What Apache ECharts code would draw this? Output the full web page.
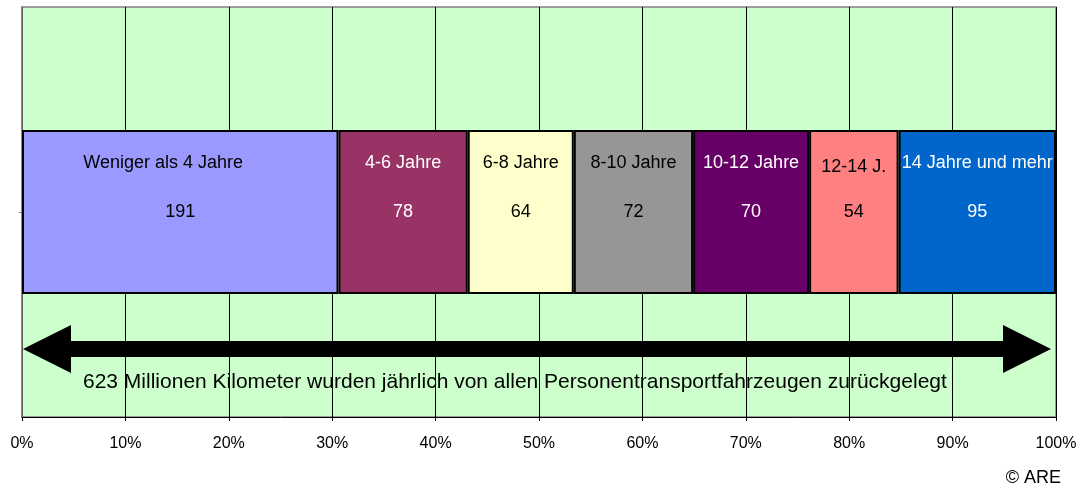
<!DOCTYPE html>
<html>
<head>
<meta charset="utf-8">
<script src="https://cdn.jsdelivr.net/npm/echarts@6/dist/echarts.min.js"></script>
<style>
  html, body { margin: 0; padding: 0; background: #fff; }
  #chart { width: 1082px; height: 486px; }
</style>
</head>
<body>
<div id="chart"></div>
<script>
// Fahrzeugalter und jährliche Fahrleistung (Mio. km)
var ageGroups = ['Weniger als 4 Jahre', '4-6 Jahre', '6-8 Jahre', '8-10 Jahre', '10-12 Jahre', '12-14 J.', '14 Jahre und mehr'];
var kilometers = [191, 78, 64, 72, 70, 54, 95];
var barColors = ['#9999FF', '#993366', '#FFFFCC', '#969696', '#660066', '#FF8080', '#0066CC'];
var labelColors = ['#000', '#fff', '#000', '#000', '#fff', '#000', '#fff'];
var tickValues = [0, 10, 20, 30, 40, 50, 60, 70, 80, 90, 100];

var total = kilometers.reduce(function (a, b) { return a + b; }, 0);
var font = '"Liberation Sans", Arial, sans-serif';

var myChart = echarts.init(document.getElementById('chart'));

var series = ageGroups.map(function (name, i) {
    var shift = i === 0 ? 34 : 0; // Excel setzt den ersten Namen etwas links
    return {
        name: name,
        type: 'bar',
        stack: 'total',
        barWidth: 164,
        data: [kilometers[i] / total * 100],
        itemStyle: { color: barColors[i], borderColor: '#000', borderWidth: 2 },
        label: {
            show: true,
            position: 'insideTop',
            distance: 0,
            formatter: '{a|' + name + '}\n{b|' + kilometers[i] + '}',
            rich: {
                a: { fontFamily: font, fontSize: 18, color: labelColors[i], lineHeight: i === 5 ? 74 : 66, padding: [0, shift, 0, 0] },
                b: { fontFamily: font, fontSize: 18, color: labelColors[i], lineHeight: i === 5 ? 16 : 32 }
            }
        }
    };
});

var option = {
    animation: false,
    backgroundColor: '#fff',
    grid: {
        left: 22, right: 26, top: 7, bottom: 69,
        show: true, backgroundColor: '#CCFFCC', borderColor: '#808080', borderWidth: 1.5
    },
    xAxis: {
        type: 'value',
        min: 0, max: 100, interval: 10,
        axisLine: { show: true, lineStyle: { color: '#000', width: 1 } },
        axisTick: { show: true, length: 4, lineStyle: { color: '#000' } },
        axisLabel: { formatter: '{value}%', fontFamily: font, fontSize: 16, color: '#000', margin: 19 },
        splitLine: { show: true, lineStyle: { color: '#000', width: 1 } }
    },
    yAxis: {
        type: 'category',
        data: [''],
        axisLine: { show: true, lineStyle: { color: '#808080', width: 1.5 } },
        axisTick: { show: true, alignWithLabel: true, length: 3, lineStyle: { color: '#808080' } },
        axisLabel: { show: false }
    },
    series: series
};

myChart.setOption(option);

// Doppelpfeil und Beschriftung unter dem Balken
var p0 = myChart.convertToPixel({ xAxisIndex: 0 }, 0);
var p100 = myChart.convertToPixel({ xAxisIndex: 0 }, 100);
var ax0 = p0 + 1, ax1 = p100 - 5, ay = 349, shaft = 8, head = 24, headLen = 48;
myChart.setOption({
    graphic: [
        {
            type: 'polygon',
            shape: {
                points: [
                    [ax0, ay], [ax0 + headLen, ay - head], [ax0 + headLen, ay - shaft],
                    [ax1 - headLen, ay - shaft], [ax1 - headLen, ay - head], [ax1, ay],
                    [ax1 - headLen, ay + head], [ax1 - headLen, ay + shaft],
                    [ax0 + headLen, ay + shaft], [ax0 + headLen, ay + head]
                ]
            },
            style: { fill: '#000' }
        },
        {
            type: 'text',
            x: 83, y: 382,
            style: {
                text: '623 Millionen Kilometer wurden jährlich von allen Personentransportfahrzeugen zurückgelegt',
                fontFamily: font, fontSize: 21, fill: '#000', verticalAlign: 'middle'
            }
        },
        {
            type: 'text',
            x: 1061, y: 478,
            style: { text: '© ARE', fontFamily: font, fontSize: 18, fill: '#000', align: 'right', verticalAlign: 'middle' }
        }
    ]
});
</script>
</body>
</html>
